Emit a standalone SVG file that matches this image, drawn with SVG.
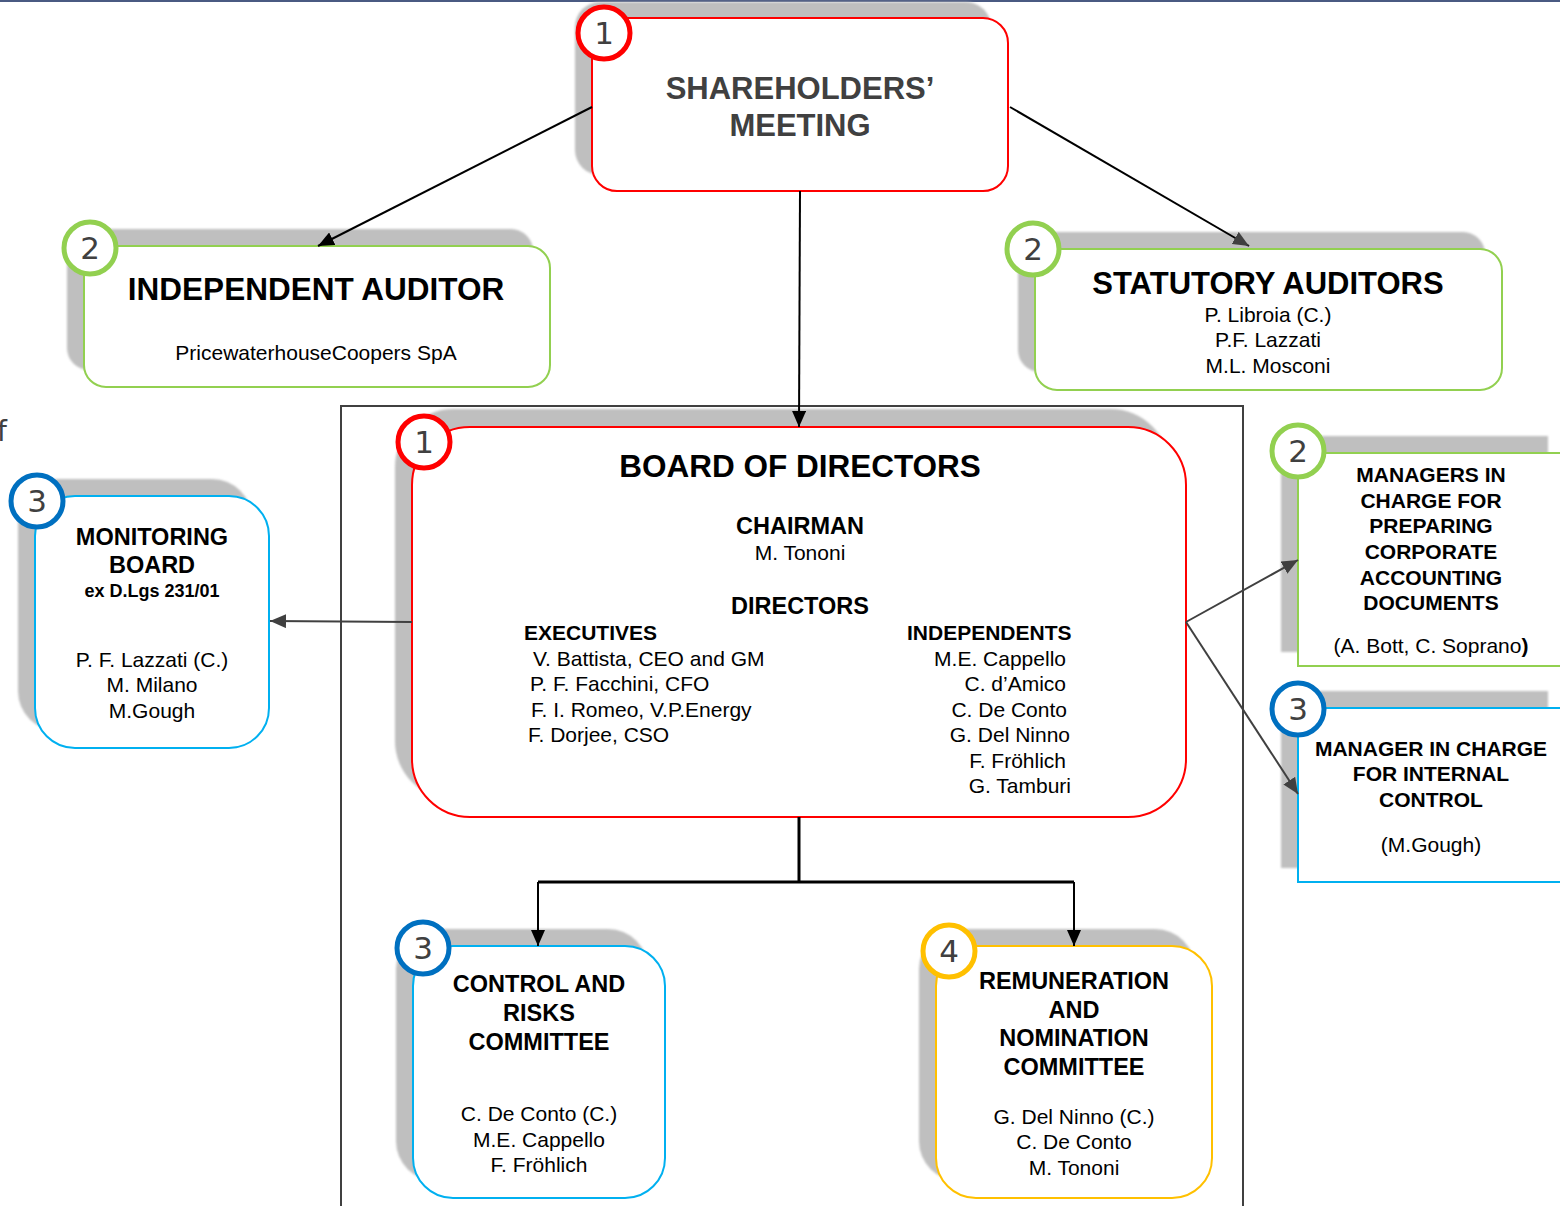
<svg xmlns="http://www.w3.org/2000/svg" width="1560" height="1206" viewBox="0 0 1560 1206">
  <style>
    .shadow { fill: #bfbfbf; filter: url(#soft); }
    .box { fill: #ffffff; stroke-width: 2; }
    .red { stroke: #ff0000; }
    .green { stroke: #92d050; }
    .blue { stroke: #00b0f0; }
    .yellow { stroke: #ffc000; }
    .badge { fill: #ffffff; stroke-width: 5; }
    .b-red { stroke: #ff0000; }
    .b-green { stroke: #92d050; }
    .b-blue { stroke: #0070c0; }
    .b-yellow { stroke: #ffc000; }
    .num { font-family: "DejaVu Sans", sans-serif; font-size: 31px; fill: #404040; text-anchor: middle; }
    text { font-family: "Liberation Sans", Arial, sans-serif; fill: #000000; }
    .c { text-anchor: middle; }
    .big { font-size: 31.5px; font-weight: bold; }
    .h2 { font-size: 23.5px; font-weight: bold; }
    .h3 { font-size: 21px; font-weight: bold; }
    .t { font-size: 21px; }
    .conn { fill: none; stroke: #000000; stroke-width: 2; }
    .conn-g { fill: none; stroke: #404040; stroke-width: 2; }
  </style>
  <defs>
    <filter id="soft" x="-5%" y="-5%" width="110%" height="110%">
      <feGaussianBlur stdDeviation="1.2"/>
    </filter>
    <marker id="ah" markerUnits="userSpaceOnUse" markerWidth="16" markerHeight="14" viewBox="0 0 16 14" refX="16" refY="7" orient="auto">
      <path d="M0,0 L16,7 L0,14 Z" fill="#000000"/>
    </marker>
    <marker id="ahg" markerUnits="userSpaceOnUse" markerWidth="16" markerHeight="14" viewBox="0 0 16 14" refX="16" refY="7" orient="auto">
      <path d="M0,0 L16,7 L0,14 Z" fill="#404040"/>
    </marker>
  </defs>

  <rect x="0" y="0" width="1560" height="1206" fill="#ffffff"/>
  <!-- page header rule -->
  <rect x="0" y="0" width="1560" height="2" fill="#4a5a82"/>
  <!-- stray letter at page edge -->
  <text x="-3" y="441" style="font-family:'DejaVu Sans',sans-serif;font-size:28px;fill:#404040">f</text>

  <!-- frame around the board and its committees -->
  <rect x="341" y="406" width="902" height="820" fill="none" stroke="#404040" stroke-width="2"/>

  <g id="shareholders-meeting">
    <rect class="shadow" x="575" y="2" width="416" height="173" rx="25"/>
    <rect class="box red" x="592" y="18" width="416" height="173" rx="25"/>
    <text class="c" x="800" y="99" style="font-size:31px;font-weight:bold;fill:#404040">SHAREHOLDERS’</text>
    <text class="c" x="800" y="136" style="font-size:31px;font-weight:bold;fill:#404040">MEETING</text>
    <circle class="badge b-red" cx="604" cy="33" r="26"/>
    <text class="num" x="604" y="44">1</text>
  </g>

  <g id="independent-auditor">
    <rect class="shadow" x="67" y="229" width="466" height="141" rx="22"/>
    <rect class="box green" x="84" y="246" width="466" height="141" rx="22"/>
    <text class="c big" x="316" y="300">INDEPENDENT AUDITOR</text>
    <text class="c t" x="316" y="360">PricewaterhouseCoopers SpA</text>
    <circle class="badge b-green" cx="90" cy="248" r="26"/>
    <text class="num" x="90" y="259">2</text>
  </g>

  <g id="statutory-auditors">
    <rect class="shadow" x="1018" y="232" width="467" height="140" rx="22"/>
    <rect class="box green" x="1035" y="249" width="467" height="141" rx="22"/>
    <text class="c" x="1268" y="294" style="font-size:31px;font-weight:bold">STATUTORY AUDITORS</text>
    <text class="c t" x="1268" y="322">P. Libroia (C.)</text>
    <text class="c t" x="1268" y="347">P.F. Lazzati</text>
    <text class="c t" x="1268" y="373">M.L. Mosconi</text>
    <circle class="badge b-green" cx="1033" cy="249" r="26"/>
    <text class="num" x="1033" y="260">2</text>
  </g>

  <g id="board-of-directors">
    <rect class="shadow" x="395" y="409" width="774" height="390" rx="58"/>
    <rect class="box red" x="412" y="427" width="774" height="390" rx="58"/>
    <text class="c big" x="800" y="477">BOARD OF DIRECTORS</text>
    <text class="c h2" x="800" y="534">CHAIRMAN</text>
    <text class="c t" x="800" y="560">M. Tononi</text>
    <text class="c h2" x="800" y="614">DIRECTORS</text>
    <text class="h3" x="524" y="640">EXECUTIVES</text>
    <text class="t" x="533" y="666">V. Battista, CEO and GM</text>
    <text class="t" x="530" y="691">P. F. Facchini, CFO</text>
    <text class="t" x="531" y="717">F. I. Romeo, V.P.Energy</text>
    <text class="t" x="528" y="742">F. Dorjee, CSO</text>
    <text class="h3" x="907" y="640">INDEPENDENTS</text>
    <text class="t" x="1066" y="666" text-anchor="end">M.E. Cappello</text>
    <text class="t" x="1066" y="691" text-anchor="end">C. d’Amico</text>
    <text class="t" x="1067" y="717" text-anchor="end">C. De Conto</text>
    <text class="t" x="1070" y="742" text-anchor="end">G. Del Ninno</text>
    <text class="t" x="1066" y="768" text-anchor="end">F. Fröhlich</text>
    <text class="t" x="1071" y="793" text-anchor="end">G. Tamburi</text>
    <circle class="badge b-red" cx="424" cy="442" r="26"/>
    <text class="num" x="424" y="453">1</text>
  </g>

  <g id="monitoring-board">
    <rect class="shadow" x="18" y="479" width="234" height="252" rx="40"/>
    <rect class="box blue" x="35" y="496" width="234" height="252" rx="40"/>
    <text class="c h2" x="152" y="545">MONITORING</text>
    <text class="c h2" x="152" y="573">BOARD</text>
    <text class="c" x="152" y="597" style="font-size:18px;font-weight:bold">ex D.Lgs 231/01</text>
    <text class="c t" x="152" y="667">P. F. Lazzati (C.)</text>
    <text class="c t" x="152" y="692">M. Milano</text>
    <text class="c t" x="152" y="718">M.Gough</text>
    <circle class="badge b-blue" cx="37" cy="501" r="26"/>
    <text class="num" x="37" y="512">3</text>
  </g>

  <g id="accounting-managers">
    <rect class="shadow" x="1281" y="436" width="267" height="216"/>
    <rect class="box green" x="1298" y="453" width="272" height="213"/>
    <text class="c h3" x="1431" y="482">MANAGERS IN</text>
    <text class="c h3" x="1431" y="508">CHARGE FOR</text>
    <text class="c h3" x="1431" y="533">PREPARING</text>
    <text class="c h3" x="1431" y="559">CORPORATE</text>
    <text class="c h3" x="1431" y="585">ACCOUNTING</text>
    <text class="c h3" x="1431" y="610">DOCUMENTS</text>
    <text class="c t" x="1431" y="653">(A. Bott, C. Soprano<tspan font-weight="bold">)</tspan></text>
    <circle class="badge b-green" cx="1298" cy="451" r="26"/>
    <text class="num" x="1298" y="462">2</text>
  </g>

  <g id="internal-control-manager">
    <rect class="shadow" x="1281" y="691" width="267" height="177"/>
    <rect class="box blue" x="1298" y="708" width="272" height="174"/>
    <text class="c h3" x="1431" y="756">MANAGER IN CHARGE</text>
    <text class="c h3" x="1431" y="781">FOR INTERNAL</text>
    <text class="c h3" x="1431" y="807">CONTROL</text>
    <text class="c t" x="1431" y="852">(M.Gough)</text>
    <circle class="badge b-blue" cx="1298" cy="709" r="26"/>
    <text class="num" x="1298" y="720">3</text>
  </g>

  <g id="control-risks-committee">
    <rect class="shadow" x="396" y="929" width="252" height="252" rx="40"/>
    <rect class="box blue" x="413" y="946" width="252" height="252" rx="40"/>
    <text class="c h2" x="539" y="992">CONTROL AND</text>
    <text class="c h2" x="539" y="1021">RISKS</text>
    <text class="c h2" x="539" y="1050">COMMITTEE</text>
    <text class="c t" x="539" y="1121">C. De Conto (C.)</text>
    <text class="c t" x="539" y="1147">M.E. Cappello</text>
    <text class="c t" x="539" y="1172">F. Fröhlich</text>
    <circle class="badge b-blue" cx="423" cy="948" r="26"/>
    <text class="num" x="423" y="959">3</text>
  </g>

  <g id="remuneration-nomination-committee">
    <rect class="shadow" x="919" y="929" width="276" height="252" rx="40"/>
    <rect class="box yellow" x="936" y="946" width="276" height="252" rx="40"/>
    <text class="c h2" x="1074" y="989">REMUNERATION</text>
    <text class="c h2" x="1074" y="1018">AND</text>
    <text class="c h2" x="1074" y="1046">NOMINATION</text>
    <text class="c h2" x="1074" y="1075">COMMITTEE</text>
    <text class="c t" x="1074" y="1124">G. Del Ninno (C.)</text>
    <text class="c t" x="1074" y="1149">C. De Conto</text>
    <text class="c t" x="1074" y="1175">M. Tononi</text>
    <circle class="badge b-yellow" cx="949" cy="951" r="26"/>
    <text class="num" x="949" y="962">4</text>
  </g>

  <!-- connectors drawn above the node shadows -->
  <g id="connectors">
    <line class="conn" x1="592" y1="107" x2="318" y2="246" marker-end="url(#ah)"/>
    <line class="conn" x1="1010" y1="107" x2="1249" y2="246" marker-end="url(#ahg)"/>
    <line class="conn" x1="800" y1="191" x2="799" y2="427" marker-end="url(#ah)"/>
    <line class="conn-g" x1="412" y1="622" x2="270" y2="621" marker-end="url(#ahg)"/>
    <line class="conn-g" x1="1186" y1="622" x2="1298" y2="560" marker-end="url(#ahg)"/>
    <line class="conn-g" x1="1186" y1="622" x2="1298" y2="794" marker-end="url(#ahg)"/>
    <polyline fill="none" stroke="#000000" stroke-width="3" points="799,817 799,882"/>
    <polyline fill="none" stroke="#000000" stroke-width="3" points="538,882 1074,882"/>
    <line class="conn" x1="538" y1="882" x2="538" y2="946" marker-end="url(#ah)"/>
    <line class="conn" x1="1074" y1="882" x2="1074" y2="946" marker-end="url(#ah)"/>
  </g>
</svg>
